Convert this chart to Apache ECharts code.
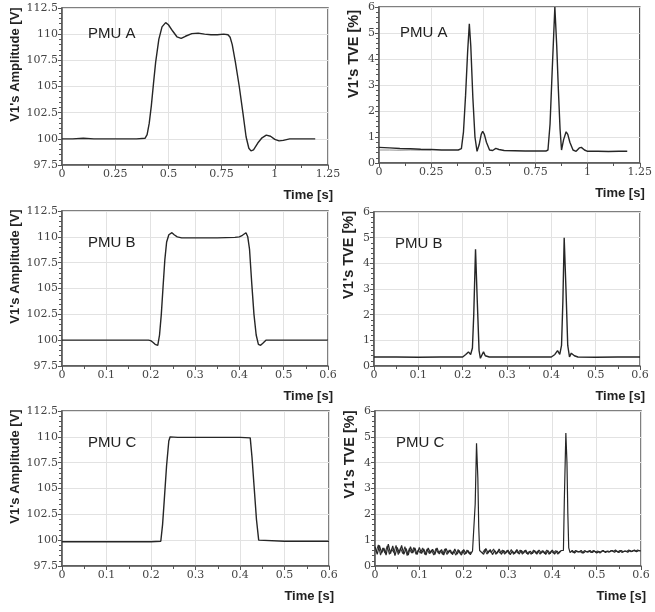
<!DOCTYPE html>
<html>
<head>
<meta charset="utf-8">
<title>PMU step response</title>
<script src="https://cdn.jsdelivr.net/npm/echarts@6/dist/echarts.min.js"></script>
<style>
    html, body { margin: 0; padding: 0; background: #fff; }
    #chart { width: 655px; height: 612px; }
</style>
</head>
<body>
<div id="chart"></div>
<script>
// tick labels
const ampTicks = [97.5, 112.5, 2.5];   // min, max, step
const tveTicks = [0, 6, 1];
const timeTicksA = [0, 1.25, 0.25];
const timeTicksBC = [0, 0.6, 0.1];
const panelNames = ['PMU A', 'PMU A', 'PMU B', 'PMU B', 'PMU C', 'PMU C'];

// PMU A - amplitude [t, V]
const ampA = [[0,100],[0.05,100],[0.1,100.05],[0.15,100],[0.2,100],[0.25,100],[0.3,100],[0.35,100],
    [0.39,100.05],[0.4,100.4],[0.41,101.5],[0.42,103.2],[0.43,105.3],[0.44,107.3],[0.455,109.5],[0.47,110.7],
    [0.487,111.1],[0.5,110.9],[0.52,110.3],[0.54,109.75],[0.56,109.6],[0.58,109.8],[0.61,110.05],[0.64,110.1],
    [0.67,110],[0.7,109.95],[0.73,109.95],[0.76,110],[0.78,109.95],[0.79,109.7],[0.8,109],[0.815,107.3],
    [0.833,105],[0.85,102.5],[0.865,100.2],[0.878,99.1],[0.888,98.85],[0.9,98.95],[0.92,99.6],[0.94,100.1],
    [0.96,100.35],[0.98,100.25],[1.0,99.95],[1.02,99.8],[1.04,99.85],[1.07,100],[1.1,100],[1.15,100],[1.19,100]];

// PMU A - TVE [t, %]
const tveA = [[0,0.6],[0.05,0.58],[0.1,0.56],[0.15,0.55],[0.2,0.53],[0.25,0.52],[0.3,0.5],[0.35,0.5],[0.38,0.5],
    [0.395,0.55],[0.405,1.2],[0.415,2.6],[0.425,4.3],[0.433,5.35],[0.44,4.5],[0.45,2.5],[0.46,1.0],[0.47,0.45],
    [0.48,0.7],[0.49,1.1],[0.497,1.22],[0.505,1.1],[0.515,0.8],[0.53,0.5],[0.545,0.48],[0.56,0.56],[0.575,0.52],
    [0.6,0.48],[0.65,0.47],[0.7,0.46],[0.75,0.46],[0.8,0.46],[0.81,0.5],[0.82,1.5],[0.83,3.5],[0.843,6.0],
    [0.852,4.5],[0.86,2.8],[0.868,1.3],[0.875,0.5],[0.885,0.9],[0.897,1.2],[0.905,1.1],[0.915,0.8],[0.93,0.5],
    [0.945,0.45],[0.96,0.58],[0.97,0.6],[0.985,0.5],[1.0,0.45],[1.05,0.45],[1.1,0.44],[1.15,0.45],[1.19,0.45]];
// second (fainter) trace at the start of PMU A TVE
const tveA2 = [[0,0.5],[0.05,0.5],[0.1,0.49],[0.15,0.5],[0.2,0.49],[0.25,0.5]];

// PMU B - amplitude
const ampB = [[0,100],[0.1,100],[0.195,100],[0.2,99.95],[0.205,99.8],[0.21,99.6],[0.214,99.5],[0.216,99.5],
    [0.22,100.5],[0.224,102.5],[0.228,105.2],[0.232,107.8],[0.236,109.5],[0.241,110.2],[0.248,110.4],[0.253,110.2],
    [0.26,110],[0.27,109.9],[0.3,109.9],[0.35,109.9],[0.39,109.95],[0.4,110],[0.407,110.15],[0.415,110.4],
    [0.419,110],[0.423,108.8],[0.428,105.5],[0.433,102.5],[0.438,100.5],[0.443,99.6],[0.448,99.5],[0.453,99.7],
    [0.46,100],[0.5,100],[0.6,100]];

// PMU B - TVE
const tveB = [[0,0.35],[0.05,0.35],[0.1,0.34],[0.15,0.35],[0.2,0.35],[0.207,0.45],[0.213,0.55],[0.218,0.45],
    [0.222,0.7],[0.225,2.0],[0.229,4.55],[0.233,2.5],[0.237,0.6],[0.24,0.3],[0.244,0.45],[0.247,0.55],[0.251,0.4],
    [0.26,0.35],[0.3,0.35],[0.35,0.35],[0.4,0.35],[0.408,0.45],[0.414,0.6],[0.419,0.45],[0.423,0.8],[0.426,2.5],
    [0.429,5.0],[0.433,3.0],[0.437,0.8],[0.441,0.35],[0.445,0.5],[0.448,0.55],[0.452,0.4],[0.46,0.35],[0.5,0.34],
    [0.55,0.35],[0.6,0.35]];

// PMU C - amplitude
const ampC = [[0,99.85],[0.05,99.85],[0.1,99.85],[0.15,99.85],[0.2,99.85],[0.222,99.9],[0.226,101.5],[0.23,104],
    [0.235,107.2],[0.24,109.6],[0.243,110],[0.247,110.05],[0.26,109.95],[0.3,109.95],[0.35,109.95],[0.4,109.95],
    [0.423,109.9],[0.427,108],[0.432,105],[0.437,102],[0.442,100],[0.445,99.85],[0.5,99.9],[0.55,99.9],[0.6,99.9]];

// PMU C - TVE (noisy), main trace
const tveC = [[0,0.75],[0.005,0.45],[0.01,0.8],[0.015,0.5],[0.02,0.7],[0.025,0.42],[0.03,0.85],[0.035,0.48],
    [0.04,0.78],[0.045,0.4],[0.05,0.72],[0.055,0.5],[0.06,0.8],[0.065,0.45],[0.07,0.68],[0.075,0.42],[0.08,0.75],
    [0.085,0.5],[0.09,0.7],[0.095,0.44],[0.1,0.72],[0.105,0.48],[0.11,0.66],[0.115,0.42],[0.12,0.7],[0.125,0.5],
    [0.13,0.65],[0.135,0.44],[0.14,0.7],[0.145,0.46],[0.15,0.64],[0.155,0.42],[0.16,0.68],[0.165,0.5],[0.17,0.62],
    [0.175,0.44],[0.18,0.66],[0.185,0.46],[0.19,0.6],[0.195,0.42],[0.2,0.64],[0.205,0.48],[0.21,0.6],[0.215,0.44],
    [0.22,0.58],[0.224,0.6],[0.226,2.4],[0.229,4.75],[0.232,3.4],[0.234,1.5],[0.236,0.6],
    [0.24,0.62],[0.245,0.45],[0.25,0.68],[0.255,0.5],[0.26,0.64],[0.265,0.44],[0.27,0.6],[0.275,0.48],[0.28,0.66],
    [0.285,0.45],[0.29,0.6],[0.295,0.5],[0.3,0.62],[0.305,0.44],[0.31,0.58],[0.315,0.48],[0.32,0.64],[0.325,0.46],
    [0.33,0.6],[0.335,0.5],[0.34,0.62],[0.345,0.45],[0.35,0.58],[0.355,0.48],[0.36,0.6],[0.365,0.46],[0.37,0.62],
    [0.375,0.5],[0.38,0.58],[0.385,0.45],[0.39,0.6],[0.395,0.48],[0.4,0.62],[0.405,0.46],[0.41,0.58],[0.415,0.5],
    [0.42,0.6],[0.425,0.6],[0.427,2.5],[0.4305,5.15],[0.433,4.0],[0.435,2.0],[0.437,0.7],[0.44,0.52],
    [0.445,0.6],[0.45,0.5],[0.455,0.58],[0.46,0.54],[0.465,0.6],[0.47,0.5],[0.475,0.57],[0.48,0.53],[0.485,0.6],
    [0.49,0.52],[0.495,0.58],[0.5,0.5],[0.505,0.56],[0.51,0.54],[0.515,0.6],[0.52,0.52],[0.525,0.58],[0.53,0.55],
    [0.535,0.6],[0.54,0.53],[0.545,0.58],[0.55,0.52],[0.555,0.6],[0.56,0.55],[0.565,0.58],[0.57,0.53],[0.575,0.6],
    [0.58,0.56],[0.585,0.62],[0.59,0.55],[0.595,0.6],[0.6,0.58]];

// PMU C - TVE, overlapping traces between the peaks
const tveC2a = [[0.0025,0.55],[0.0075,0.82],[0.0125,0.42],[0.0175,0.7],[0.0225,0.5],[0.0275,0.78],[0.0325,0.45],
    [0.0375,0.66],[0.0425,0.52],[0.0475,0.8],[0.0525,0.44],[0.0575,0.7],[0.0625,0.48],[0.0675,0.75],[0.0725,0.4],
    [0.0775,0.68],[0.0825,0.5],[0.0875,0.72],[0.0925,0.45],[0.0975,0.62],[0.1025,0.5],[0.1075,0.7],[0.1125,0.44],
    [0.1175,0.66],[0.1225,0.48],[0.1275,0.62],[0.1325,0.42],[0.1375,0.68],[0.1425,0.5],[0.1475,0.6],[0.1525,0.45],
    [0.1575,0.66],[0.1625,0.44],[0.1675,0.62],[0.1725,0.48],[0.1775,0.58],[0.1825,0.42],[0.1875,0.64],[0.1925,0.46],
    [0.1975,0.6],[0.2025,0.44],[0.2075,0.62],[0.2125,0.48],[0.2175,0.56]];
const tveC2b = [[0.2425,0.5],[0.2475,0.64],[0.2525,0.46],[0.2575,0.6],[0.2625,0.52],[0.2675,0.66],[0.2725,0.45],
    [0.2775,0.58],[0.2825,0.5],[0.2875,0.62],[0.2925,0.46],[0.2975,0.6],[0.3025,0.48],[0.3075,0.64],[0.3125,0.45],
    [0.3175,0.58],[0.3225,0.5],[0.3275,0.62],[0.3325,0.46],[0.3375,0.6],[0.3425,0.48],[0.3475,0.56],[0.3525,0.45],
    [0.3575,0.62],[0.3625,0.5],[0.3675,0.58],[0.3725,0.46],[0.3775,0.6],[0.3825,0.48],[0.3875,0.62],[0.3925,0.45],
    [0.3975,0.58],[0.4025,0.5],[0.4075,0.6],[0.4125,0.46],[0.4175,0.58]];
const tveC2c = [[0.4425,0.58],[0.4475,0.52],[0.4525,0.6],[0.4575,0.54],[0.4625,0.56],[0.4675,0.5],[0.4725,0.6],
    [0.4775,0.55],[0.4825,0.58],[0.4875,0.52],[0.4925,0.6],[0.4975,0.54],[0.5025,0.58],[0.5075,0.5],[0.5125,0.6],
    [0.5175,0.55],[0.5225,0.57],[0.5275,0.53],[0.5325,0.6],[0.5375,0.56],[0.5425,0.62],[0.5475,0.54],[0.5525,0.6],
    [0.5575,0.52],[0.5625,0.58],[0.5675,0.56],[0.5725,0.62],[0.5775,0.55],[0.5825,0.6],[0.5875,0.57],[0.5925,0.62],
    [0.5975,0.58]];

// grid boxes [left, top, width, height]
const boxes = [[62, 8, 266, 157], [379, 7, 266, 156],
    [62, 211, 266, 155], [374, 212, 266, 154],
    [62, 411, 267, 155], [375, 411, 266, 155]];

const ink = '#555';
const serif = '"DejaVu Serif", serif';
const sans = '"Liberation Sans", Arial, sans-serif';

function xAxisFor(i, t) {
    return {
        type: 'value', gridIndex: i, min: t[0], max: t[1], interval: t[2],
        name: 'Time [s]', nameLocation: 'end', nameGap: 5,
        nameTextStyle: { fontFamily: sans, fontWeight: 'bold', fontSize: 13, color: '#222',
            align: 'right', verticalAlign: 'top', padding: [24, 0, 0, 0] },
        axisLine: { show: true, onZero: false, lineStyle: { color: ink, width: 1.5 } },
        axisTick: { show: true, length: 4, lineStyle: { color: ink } },
        minorTick: { show: true, splitNumber: 2, length: 3, lineStyle: { color: ink } },
        axisLabel: { fontFamily: serif, fontSize: 11, color: '#444', margin: 4, showMinLabel: true, showMaxLabel: true },
        splitLine: { show: true, lineStyle: { color: '#e2e2e2' } }
    };
}

function yAxisFor(i, t, name, gap, pad) {
    return {
        type: 'value', gridIndex: i, min: t[0], max: t[1], interval: t[2],
        name: name, nameLocation: 'middle', nameGap: gap,
        nameTextStyle: { fontFamily: sans, fontWeight: 'bold', fontSize: name.length > 14 ? 13 : 14.5, color: '#222',
            padding: [0, 0, 0, pad] },
        axisLine: { show: true, lineStyle: { color: ink, width: 1.5 } },
        axisTick: { show: true, length: 4, lineStyle: { color: ink } },
        minorTick: { show: true, splitNumber: 5, length: 3, lineStyle: { color: ink } },
        axisLabel: { fontFamily: serif, fontSize: 11, color: '#444', margin: 4, showMinLabel: true, showMaxLabel: true },
        splitLine: { show: true, lineStyle: { color: '#e2e2e2' } }
    };
}

function line(i, data, w, color) {
    return {
        type: 'line', xAxisIndex: i, yAxisIndex: i, data: data,
        showSymbol: false, smooth: false, animation: false,
        lineStyle: { color: color || '#262626', width: w || 1.4 }
    };
}

const ampName = "V1's Amplitude [V]";
const tveName = "V1's TVE [%]";

const option = {
    backgroundColor: '#fff',
    animation: false,
    grid: boxes.map(b => ({ left: b[0], top: b[1], width: b[2], height: b[3],
        show: true, borderColor: ink, borderWidth: 1.5, backgroundColor: 'transparent' })),
    title: boxes.map((b, i) => ({
        text: panelNames[i], left: b[0] + (i % 2 ? 16 : 21), top: b[1] + (i < 2 ? 13 : 19),
        textStyle: { fontFamily: sans, fontWeight: 'normal', fontSize: 15, color: '#222' }
    })),
    xAxis: [xAxisFor(0, timeTicksA), xAxisFor(1, timeTicksA),
        xAxisFor(2, timeTicksBC), xAxisFor(3, timeTicksBC),
        xAxisFor(4, timeTicksBC), xAxisFor(5, timeTicksBC)],
    yAxis: [yAxisFor(0, ampTicks, ampName, 40, 44), yAxisFor(1, tveTicks, tveName, 18, 62),
        yAxisFor(2, ampTicks, ampName, 40, 44), yAxisFor(3, tveTicks, tveName, 18, 68),
        yAxisFor(4, ampTicks, ampName, 40, 44), yAxisFor(5, tveTicks, tveName, 18, 68)],
    series: [
        line(0, ampA), line(1, tveA2, 0.8, '#777'), line(1, tveA),
        line(2, ampB), line(3, tveB),
        line(4, ampC),
        line(5, tveC2a, 1.1, '#333'), line(5, tveC2b, 1.1, '#333'), line(5, tveC2c, 1.1, '#333'),
        line(5, tveC, 1.2)
    ]
};

const chart = echarts.init(document.getElementById('chart'), null, { renderer: 'canvas' });
chart.setOption(option);
</script>
</body>
</html>
